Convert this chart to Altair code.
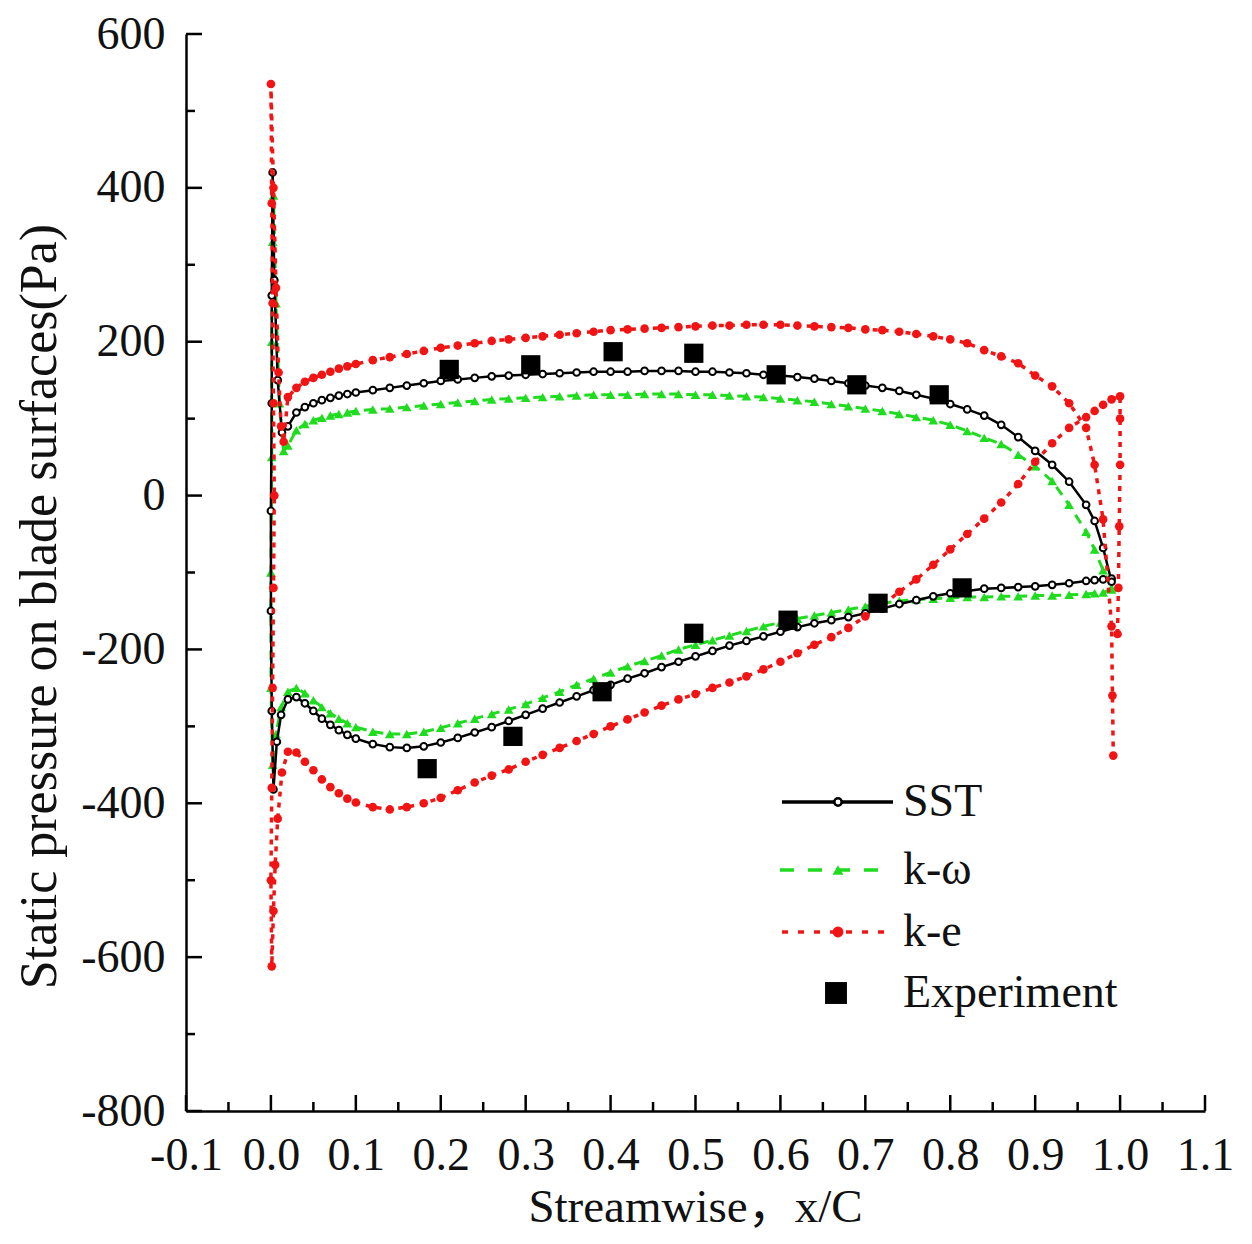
import altair as alt
import pandas as pd

# ---------------- data ----------------
X_BRANCH = [0.02, 0.03, 0.04, 0.05, 0.06, 0.07, 0.08, 0.09, 0.10,
            0.12, 0.14, 0.16, 0.18, 0.20, 0.22, 0.24, 0.26, 0.28, 0.30,
            0.32, 0.34, 0.36, 0.38, 0.40, 0.42, 0.44, 0.46, 0.48, 0.50,
            0.52, 0.54, 0.56, 0.58, 0.60, 0.62, 0.64, 0.66, 0.68, 0.70,
            0.72, 0.74, 0.76, 0.78, 0.80, 0.82, 0.84, 0.86, 0.88, 0.90,
            0.92, 0.94, 0.96, 0.97, 0.98, 0.99]

SST_UPPER = [90, 108, 115, 120, 124, 127, 130, 132, 134,
             137, 140, 143, 146, 149, 151, 153, 155, 156, 157,
             158, 159, 160, 161, 161, 161, 162, 162, 162, 161,
             161, 160, 159, 157, 156, 154, 152, 149, 146, 143,
             140, 136, 131, 126, 119, 112, 104, 92, 76, 58,
             40, 18, -12, -33, -68, -112]
SST_LOWER = [-265, -262, -270, -280, -290, -298, -305, -311, -316,
             -323, -327, -328, -326, -321, -315, -308, -301, -293, -285,
             -277, -269, -261, -253, -246, -238, -231, -223, -216, -209,
             -202, -195, -189, -183, -177, -171, -166, -162, -158, -153,
             -147, -141, -136, -131, -127, -124, -121, -120, -119, -118,
             -116, -114, -111, -110, -109, -108]
SST_LE_X = [0.012, 0.007, 0.003, 0.001, 0.000, 0.000, 0.001, 0.001, 0.002, 0.004, 0.008, 0.013]
SST_LE_Y = [-285, -320, -382, -280, -150, -20, 120, 260, 420, 280, 150, 82]

KW_UPPER = [65, 85, 93, 98, 101, 104, 106, 108, 110,
            112, 113, 115, 117, 119, 121, 123, 125, 126, 127,
            128, 129, 130, 131, 131, 131, 132, 132, 132, 131,
            131, 130, 129, 128, 126, 124, 122, 119, 116, 113,
            110, 106, 102, 98, 92, 84, 75, 67, 53, 38,
            19, -12, -47, -70, -97, -120]
KW_LOWER = [-255, -250, -257, -266, -275, -283, -290, -296, -301,
            -307, -310, -310, -307, -302, -296, -290, -284, -278, -271,
            -263, -255, -246, -238, -230, -222, -215, -208, -200, -194,
            -188, -182, -176, -170, -165, -160, -156, -152, -148, -144,
            -140, -137, -135, -134, -133, -132, -132, -131, -131, -130,
            -130, -129, -128, -127, -126, -122]
KW_LE_X = [0.012, 0.006, 0.002, 0.000, 0.000, 0.001, 0.001, 0.002, 0.003, 0.006, 0.010, 0.015]
KW_LE_Y = [-275, -310, -350, -250, -100, 50, 200, 330, 390, 250, 120, 58]

KE_UPPER = [128, 140, 148, 153, 157, 161, 165, 168, 171,
            176, 180, 184, 188, 192, 195, 198, 201, 203, 205,
            207, 209, 211, 213, 215, 216, 217, 218, 219, 220,
            221, 221, 222, 222, 222, 221, 220, 219, 218, 216,
            215, 213, 210, 207, 203, 198, 189, 181, 172, 156,
            142, 120, 88, 40, -31, -170]
KE_LOWER = [-333, -334, -346, -357, -369, -379, -387, -394, -399,
            -405, -408, -405, -400, -393, -383, -373, -364, -356, -346,
            -337, -328, -319, -310, -300, -291, -282, -273, -265, -258,
            -250, -243, -235, -226, -216, -205, -194, -184, -172, -157,
            -143, -125, -109, -90, -70, -50, -30, -9, 15, 44,
            68, 88, 102, 110, 118, 125]
KE_LE_X = [0.013, 0.008, 0.005, 0.003, 0.001, 0.000, 0.001, 0.002, 0.003, 0.004,
           0.003, 0.002, 0.001, 0.000, 0.003, 0.006, 0.009, 0.012, 0.015]
KE_LE_Y = [-360, -420, -480, -540, -612, -500, -380, -250, -120, 0,
           120, 250, 380, 535, 400, 270, 160, 90, 70]
KE_TE_START_X = [0.997, 0.998, 0.999, 1.0, 1.0, 1.0]
KE_TE_START_Y = [-180, -120, -40, 40, 100, 129]
KE_TE_END_X = [0.991, 0.992]
KE_TE_END_Y = [-260, -338]

EXP_X = [0.21, 0.306, 0.403, 0.498, 0.595, 0.69, 0.787,
         0.184, 0.285, 0.39, 0.498, 0.609, 0.715, 0.814]
EXP_Y = [164, 170, 187, 185, 157, 144, 131,
         -355, -313, -255, -179, -162, -140, -120]

X_MAJOR = [-0.1, 0.0, 0.1, 0.2, 0.3, 0.4, 0.5, 0.6, 0.7, 0.8, 0.9, 1.0, 1.1]
X_MINOR = [-0.05, 0.05, 0.15, 0.25, 0.35, 0.45, 0.55, 0.65, 0.75, 0.85, 0.95, 1.05]
Y_MAJOR = [-800, -600, -400, -200, 0, 200, 400, 600]
Y_MINOR = [-700, -500, -300, -100, 100, 300, 500]

LEGEND_LABELS = ["SST", "k-ω", "k-e", "Experiment"]

# ---------------- build tables ----------------
def build_path(lower, le_x, le_y, upper, pre_x=(), pre_y=(), post_x=(), post_y=()):
    xs = list(pre_x) + X_BRANCH[::-1] + list(le_x) + X_BRANCH + list(post_x)
    ys = list(pre_y) + lower[::-1] + list(le_y) + upper + list(post_y)
    return pd.DataFrame({"x": xs, "y": ys, "i": list(range(len(xs)))})

sst_df = build_path(SST_LOWER, SST_LE_X, SST_LE_Y, SST_UPPER)
kw_df = build_path(KW_LOWER, KW_LE_X, KW_LE_Y, KW_UPPER)
ke_df = build_path(KE_LOWER, KE_LE_X, KE_LE_Y, KE_UPPER,
                   KE_TE_START_X, KE_TE_START_Y, KE_TE_END_X, KE_TE_END_Y)
exp_df = pd.DataFrame({"x": EXP_X, "y": EXP_Y})

W, H = 1019, 1077
FONT = "Liberation Serif"
TITLE_FONT = "Liberation Serif, Noto Sans CJK SC"
TXT = "#111111"
GREEN = "#1fdc1f"
RED = "#f21414"

x_scale = alt.Scale(domain=[-0.1, 1.1], nice=False, zero=False)
y_scale = alt.Scale(domain=[-800, 600], nice=False, zero=False)

x_axis = alt.Axis(
    values=X_MAJOR,
    labelExpr="datum.value < 0 ? '-' + format(-datum.value, '.1f') : format(datum.value, '.1f')",
    title="Streamwise，x/C", titleX=509, titleY=110, titleAlign="center",
    titleBaseline="alphabetic", titleFontSize=47, titleFont=TITLE_FONT, titleFontWeight="normal",
    titleColor=TXT, labelFont=FONT, labelFontSize=46, labelColor=TXT, labelPadding=22,
    labelFlush=False, labelOverlap=False, labelBound=False,
    ticks=False, grid=False, domainColor="black", domainWidth=2.5)
y_axis = alt.Axis(
    values=Y_MAJOR,
    labelExpr="datum.value < 0 ? '-' + format(-datum.value, 'd') : format(datum.value, 'd')",
    title="Static pressure on blade surfaces(Pa)", titleX=-131, titleY=572, titleAngle=270,
    titleAlign="center", titleBaseline="alphabetic", titleFontSize=52, titleFont=FONT,
    titleFontWeight="normal", titleColor=TXT, labelFont=FONT, labelFontSize=46,
    labelColor=TXT, labelPadding=21, labelOverlap=False, labelBound=False,
    ticks=False, grid=False, domainColor="black", domainWidth=2.5)

def X():
    return alt.X("x:Q", scale=x_scale, axis=x_axis)

def Y():
    return alt.Y("y:Q", scale=y_scale, axis=y_axis)

layers = []

# inward tick marks
layers.append(alt.Chart(pd.DataFrame({"x": X_MAJOR})).mark_rule(color="black", strokeWidth=2.5)
              .encode(x=X(), y=alt.value(H), y2=alt.value(H - 16)))
layers.append(alt.Chart(pd.DataFrame({"x": X_MINOR})).mark_rule(color="black", strokeWidth=2.5)
              .encode(x=X(), y=alt.value(H), y2=alt.value(H - 9)))
layers.append(alt.Chart(pd.DataFrame({"y": Y_MAJOR})).mark_rule(color="black", strokeWidth=2.5)
              .encode(y=Y(), x=alt.value(0), x2=alt.value(16)))
layers.append(alt.Chart(pd.DataFrame({"y": Y_MINOR})).mark_rule(color="black", strokeWidth=2.5)
              .encode(y=Y(), x=alt.value(0), x2=alt.value(9)))

# k-omega (green dashed, triangles)
layers.append(alt.Chart(kw_df).mark_line(color=GREEN, strokeWidth=3, strokeDash=[10, 7])
              .encode(x=X(), y=Y(), order="i:Q"))
layers.append(alt.Chart(kw_df).mark_point(shape="triangle-up", size=95, filled=True,
                                          color=GREEN, opacity=1)
              .encode(x=X(), y=Y()))
# SST (black solid, open circles)
layers.append(alt.Chart(sst_df).mark_line(color="black", strokeWidth=2.5)
              .encode(x=X(), y=Y(), order="i:Q"))
layers.append(alt.Chart(sst_df).mark_point(shape="circle", size=45, filled=True, fill="white",
                                           stroke="black", strokeWidth=2, opacity=1)
              .encode(x=X(), y=Y()))
# k-e (red dotted, filled circles)
layers.append(alt.Chart(ke_df).mark_line(color=RED, strokeWidth=3.5, strokeDash=[5, 6])
              .encode(x=X(), y=Y(), order="i:Q"))
layers.append(alt.Chart(ke_df).mark_point(shape="circle", size=75, filled=True,
                                          color=RED, opacity=1)
              .encode(x=X(), y=Y()))
# experiment
layers.append(alt.Chart(exp_df).mark_square(size=370, color="black", opacity=1)
              .encode(x=X(), y=Y()))

# ---------------- legend ----------------
one = pd.DataFrame({"a": [0]})
LY = [768, 836, 898, 959]
layers.append(alt.Chart(one).mark_rule(color="black", strokeWidth=3.5)
              .encode(x=alt.value(596), x2=alt.value(707), y=alt.value(LY[0])))
layers.append(alt.Chart(one).mark_point(shape="circle", size=55, filled=True, fill="white",
                                        stroke="black", strokeWidth=2.5, opacity=1)
              .encode(x=alt.value(652), y=alt.value(LY[0])))
layers.append(alt.Chart(one).mark_rule(color=GREEN, strokeWidth=3.5, strokeDash=[14, 14])
              .encode(x=alt.value(594), x2=alt.value(706), y=alt.value(LY[1])))
layers.append(alt.Chart(one).mark_point(shape="triangle-up", size=120, filled=True,
                                        color=GREEN, opacity=1)
              .encode(x=alt.value(652), y=alt.value(LY[1])))
layers.append(alt.Chart(one).mark_rule(color=RED, strokeWidth=3.5, strokeDash=[6, 10])
              .encode(x=alt.value(596), x2=alt.value(700), y=alt.value(LY[2])))
layers.append(alt.Chart(one).mark_point(shape="circle", size=120, filled=True,
                                        color=RED, opacity=1)
              .encode(x=alt.value(652), y=alt.value(LY[2])))
layers.append(alt.Chart(one).mark_square(size=480, color="black", opacity=1)
              .encode(x=alt.value(650), y=alt.value(LY[3])))
for k, lab in enumerate(LEGEND_LABELS):
    layers.append(alt.Chart(one).mark_text(align="left", baseline="middle", font=FONT,
                                           fontSize=46, color=TXT, text=lab)
                  .encode(x=alt.value(717), y=alt.value(LY[k])))

chart = (alt.layer(*layers)
         .properties(width=W, height=H,
                     view=alt.ViewBackground(stroke="transparent", strokeWidth=0),
                     autosize=alt.AutoSizeParams(type="none"),
                     padding={"left": 178, "top": 26, "right": 39, "bottom": 125})
         .configure_view(stroke="transparent", strokeWidth=0)
         .configure(background="white"))

chart.save("out.html", embed_options={"renderer": "svg", "actions": False})
